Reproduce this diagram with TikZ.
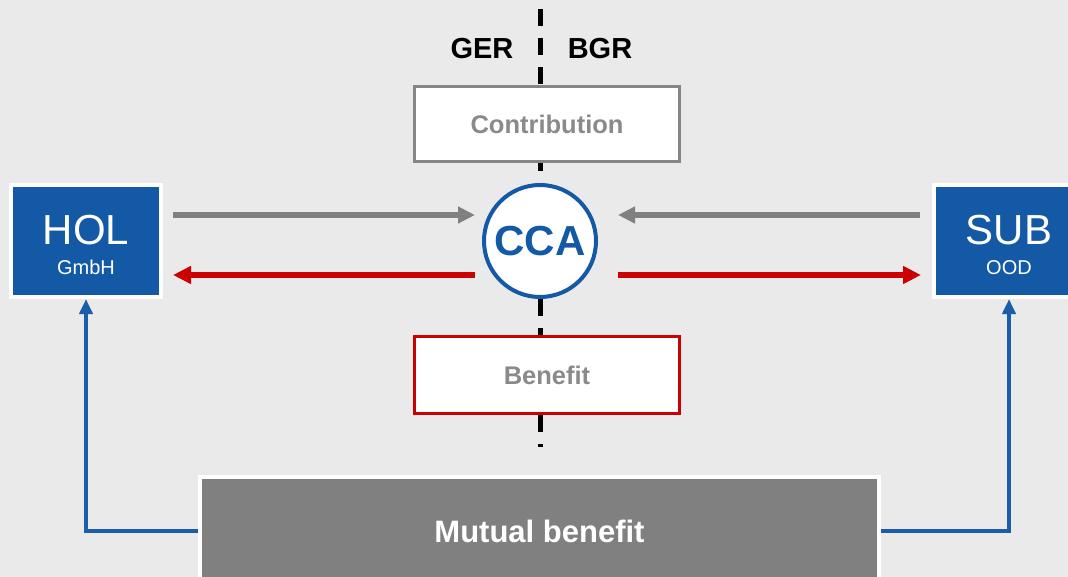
\documentclass[tikz,border=0pt]{standalone}
\usepackage{fontspec}
\setmainfont{Liberation Sans}
\usetikzlibrary{arrows.meta}

\definecolor{canvas}{HTML}{EAEAEA}
\definecolor{corpblue}{HTML}{1459A6}
\definecolor{linkblue}{HTML}{1A5DAA}
\definecolor{flowred}{HTML}{CC0000}
\definecolor{flowgray}{HTML}{808080}
\definecolor{framegray}{HTML}{858585}
\definecolor{textgray}{HTML}{8A8A8A}

\begin{document}
\begin{tikzpicture}[x=1pt,y=-1pt,
  entity/.style={rectangle, fill=corpblue, draw=white, line width=4pt,
    minimum width=150pt, minimum height=112pt, inner sep=0pt},
  entityname/.style={inner sep=0pt, text=white, font=\fontsize{42}{48}\selectfont},
  entityform/.style={inner sep=0pt, text=white, font=\fontsize{20}{24}\selectfont},
  side/.style={inner sep=0pt, text=black, font=\bfseries\fontsize{29}{34}\selectfont},
  flowbox/.style={rectangle, fill=white, line width=3pt, minimum width=265pt,
    inner sep=0pt, text=textgray, font=\bfseries\fontsize{25.5}{30}\selectfont},
  hub/.style={circle, fill=white, draw=corpblue, line width=4pt, minimum size=112pt,
    inner sep=0pt, text=corpblue, font=\bfseries\fontsize{42}{48}\selectfont},
  joint/.style={rectangle, fill=flowgray, draw=white, line width=4pt,
    minimum width=679pt, minimum height=108pt, inner sep=0pt,
    text=white, font=\bfseries\fontsize{31}{36}\selectfont},
  divider/.style={line width=4.5pt, dash pattern=on 17pt off 12pt},
  grayflow/.style={draw=flowgray, line width=6pt,
    -{Triangle[length=17pt,width=16pt]}},
  redflow/.style={draw=flowred, line width=6pt,
    -{Triangle[length=18pt,width=17pt]}},
  bluelink/.style={draw=linkblue, line width=4pt,
    -{Triangle[length=15pt,width=13pt]}}
]
  % background and page size
  \path[use as bounding box, fill=canvas] (0,0) rectangle (1068,577);

  % border line between the two countries
  \coordinate (divtop) at (540.5,9);
  \coordinate (divbot) at (540.5,447);
  \draw[divider] (divtop) -- (divbot);

  \node[side, anchor=base] (ger) at (482,59) {GER};
  \node[side, anchor=base] (bgr) at (600,59) {BGR};

  % flow boxes on the border
  \node[flowbox, draw=framegray, minimum height=75pt] (contrib) at (547,124) {Contribution};
  \node[flowbox, draw=flowred, minimum height=77pt] (benefit) at (547,375) {Benefit};

  % central agreement
  \node[hub] (cca) at (540,241) {CCA};

  % the two companies
  \node[entity] (hol) at (86,241) {};
  \node[entityname, anchor=base] (holname) at (86,245) {HOL};
  \node[entityform, anchor=base] (holform) at (86,275) {GmbH};

  \node[entity] (sub) at (1009,241) {};
  \node[entityname, anchor=base] (subname) at (1009,245) {SUB};
  \node[entityform, anchor=base] (subform) at (1009,275) {OOD};

  % shared result
  \node[joint] (mb) at (539.5,531) {Mutual benefit};

  % contributions into the agreement
  \draw[grayflow, shorten <=10pt, shorten >=7pt]
    ([yshift=26pt]hol.east) -- ([yshift=26pt]hol.east -| cca.west);
  \draw[grayflow, shorten <=12pt, shorten >=20pt]
    ([yshift=26pt]sub.west) -- ([yshift=26pt]sub.west -| cca.east);

  % benefits out of the agreement
  \draw[redflow, shorten <=7pt, shorten >=10pt]
    ([yshift=-34pt]cca.west) -- ([yshift=-34pt]cca.west -| hol.east);
  \draw[redflow, shorten <=20pt, shorten >=11pt]
    ([yshift=-34pt]cca.east) -- ([yshift=-34pt]cca.east -| sub.west);

  % mutual benefit back to both companies
  \draw[bluelink] (mb.west) -| (hol.south);
  \draw[bluelink] (mb.east) -| (sub.south);
\end{tikzpicture}
\end{document}
